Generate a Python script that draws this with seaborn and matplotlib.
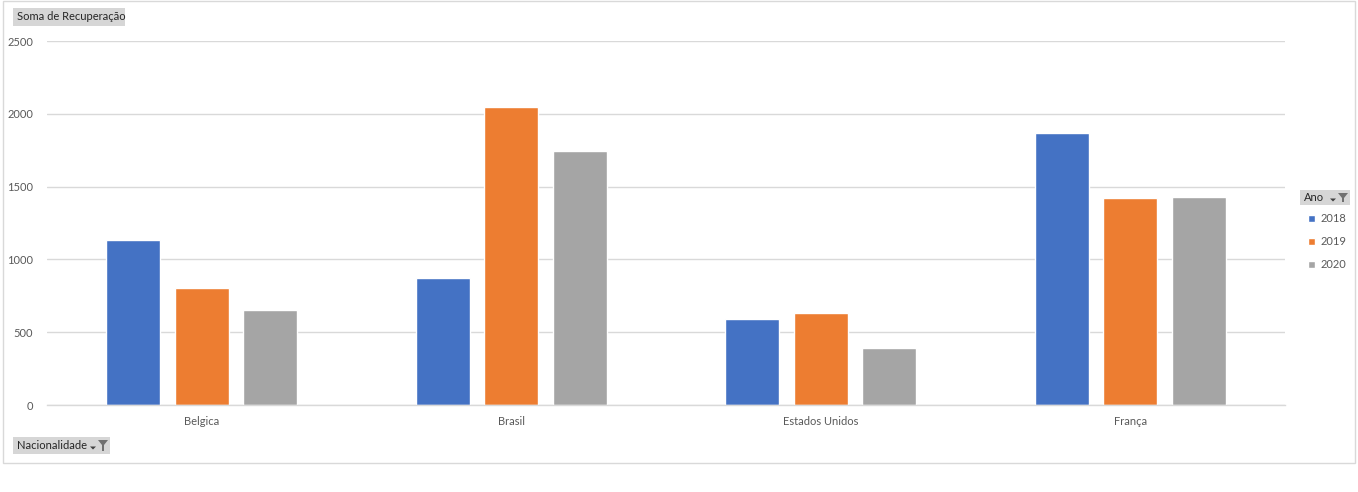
import matplotlib
matplotlib.use("Agg")
import matplotlib.pyplot as plt
import seaborn as sns
import pandas as pd
from matplotlib.patches import Rectangle, Polygon

categories = ["Belgica", "Brasil", "Estados Unidos", "França"]
years = ["2018", "2019", "2020"]
v2018 = [1135, 875, 590, 1870]
v2019 = [805, 2045, 630, 1420]
v2020 = [650, 1745, 390, 1430]
yticks = [0, 500, 1000, 1500, 2000, 2500]
colors = ["#4472C4", "#ED7D31", "#A5A5A5"]

rows = []
for yr, vals in zip(years, [v2018, v2019, v2020]):
    for c, v in zip(categories, vals):
        rows.append({"Nacionalidade": c, "Ano": yr, "Valor": v})
df = pd.DataFrame(rows)

sns.set_theme(style="white")
plt.rcParams["font.family"] = ["Lato", "DejaVu Sans"]

W, H = 1358, 492
fig = plt.figure(figsize=(W / 100, H / 100), dpi=100)

def fx(x):
    return x / W

def fy(y):
    return 1 - y / H

ax = fig.add_axes([fx(47), fy(405), (1285 - 47) / W, (405 - 41) / H])
sns.barplot(data=df, x="Nacionalidade", y="Valor", hue="Ano", hue_order=years,
            palette=colors, width=0.664, gap=0.21, saturation=1, ax=ax,
            legend=True, errorbar=None)
ax.set_ylim(0, 2500)
ax.set_xlim(-0.5, 3.5)
ax.set_yticks(yticks)
ax.set_yticklabels([str(t) for t in yticks])
ax.yaxis.grid(True, color="#D9D9D9", linewidth=1)
ax.set_axisbelow(True)
for s in ["top", "right", "left"]:
    ax.spines[s].set_visible(False)
ax.spines["bottom"].set_color("#D9D9D9")
ax.spines["bottom"].set_linewidth(1)
ax.tick_params(axis="both", length=0, labelsize=8, colors="#595959")
ax.tick_params(axis="y", pad=10)
ax.tick_params(axis="x", pad=8)
ax.set_xlabel("")
ax.set_ylabel("")

handles, labels = ax.get_legend_handles_labels()
ax.get_legend().remove()
fig.legend(handles, labels, loc="upper left", bbox_to_anchor=(fx(1298), fy(203)),
           frameon=False, fontsize=8, handlelength=0.6, handleheight=0.6,
           handletextpad=0.5, labelspacing=1.1, labelcolor="#595959")

# outer frame
fig.patches.append(Rectangle((fx(3), fy(463)), fx(1352), (463 - 1) / H,
                             transform=fig.transFigure, fill=False,
                             edgecolor="#D9D9D9", linewidth=1))

def button(x0, y0, x1, y1, text, icons=False):
    fig.patches.append(Rectangle((fx(x0), fy(y1)), fx(x1 - x0), (y1 - y0) / H,
                                 transform=fig.transFigure, facecolor="#D6D6D6",
                                 edgecolor="none"))
    fig.text(fx(x0 + 4), fy((y0 + y1) / 2), text, fontsize=8, color="#262626",
             va="center", ha="left")
    if icons:
        # dropdown arrow
        ax_ = x1 - 20
        cy = (y0 + y1) / 2 + 2
        fig.patches.append(Polygon([(fx(ax_), fy(cy - 1)), (fx(ax_ + 6), fy(cy - 1)),
                                    (fx(ax_ + 3), fy(cy + 2))], closed=True,
                                   transform=fig.transFigure, facecolor="#404040",
                                   edgecolor="none"))
        # funnel
        f0 = x1 - 12
        top = y0 + 3
        fig.patches.append(Polygon([(fx(f0), fy(top)), (fx(f0 + 10), fy(top)),
                                    (fx(f0 + 6), fy(top + 5)), (fx(f0 + 6), fy(y1 - 3)),
                                    (fx(f0 + 4), fy(y1 - 3)), (fx(f0 + 4), fy(top + 5))],
                                   closed=True, transform=fig.transFigure,
                                   facecolor="#707070", edgecolor="none"))

button(13, 8, 125, 26, "Soma de Recuperação")
button(13, 437, 110, 454, "Nacionalidade", icons=True)
button(1300, 190, 1350, 205, "Ano", icons=True)

fig.savefig("out.png", dpi=100)
